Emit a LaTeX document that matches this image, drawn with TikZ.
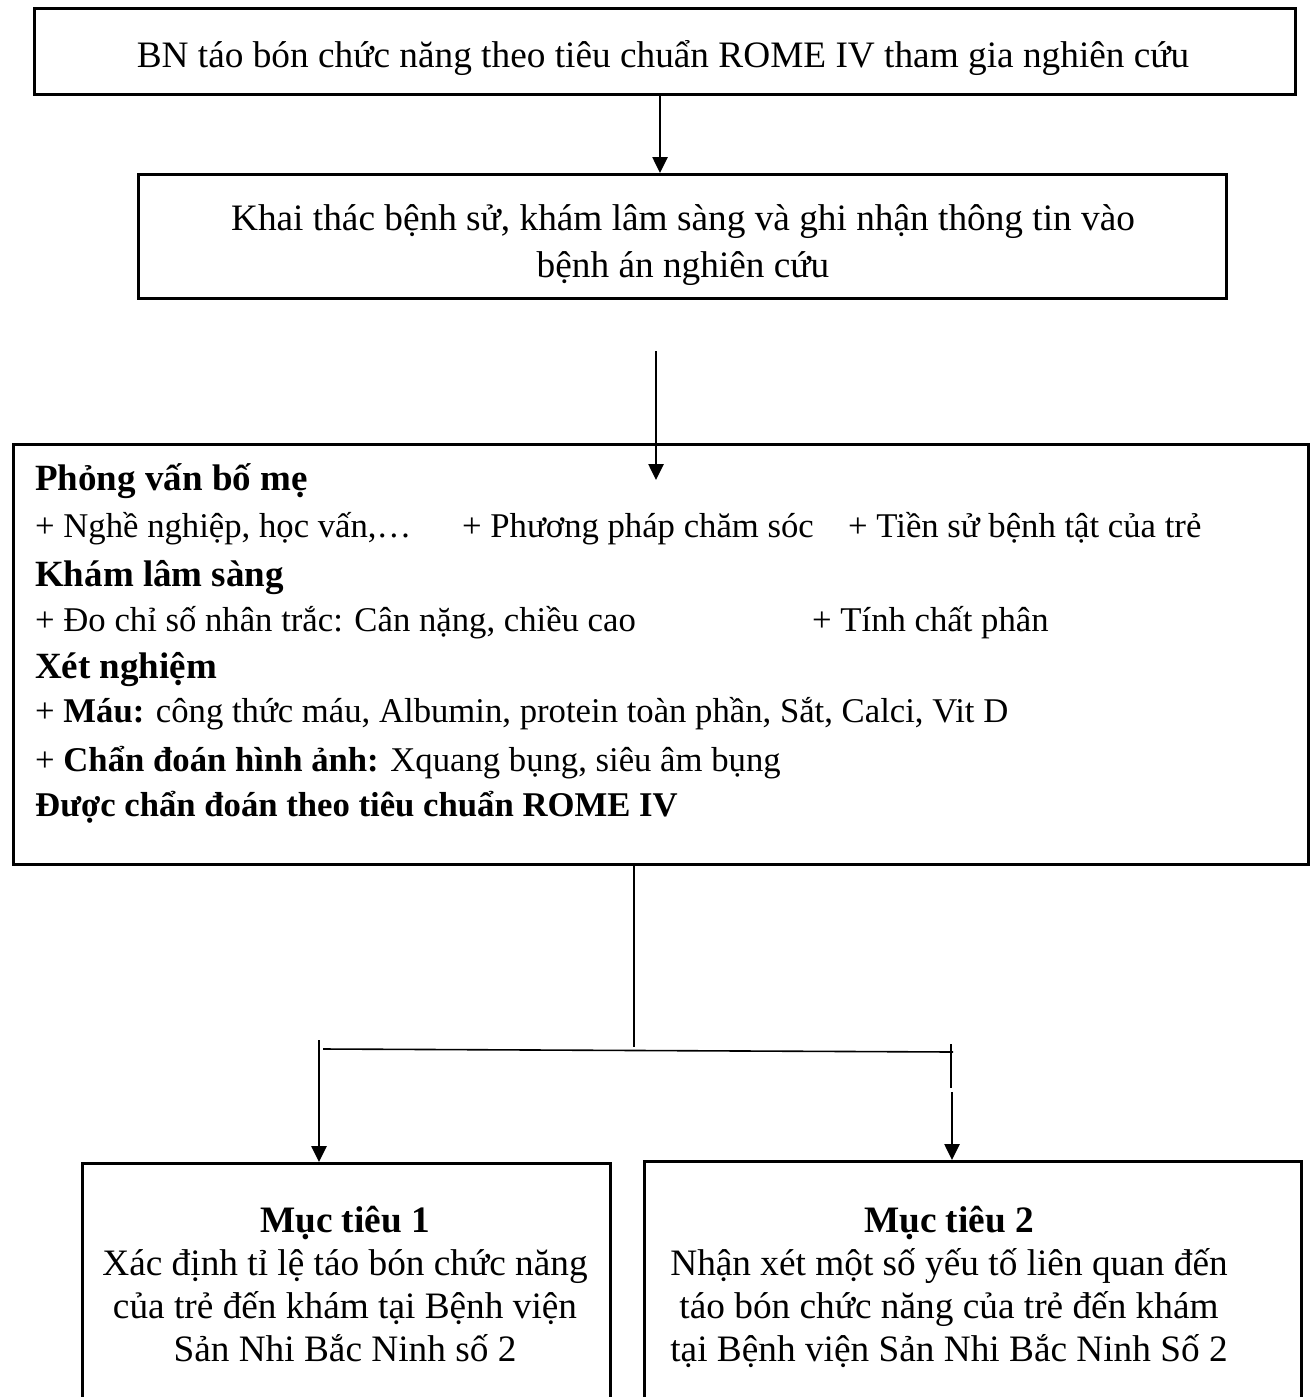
\documentclass[tikz,border=0pt]{standalone}
\usepackage{fontspec}
\setmainfont{Liberation Serif}
\usetikzlibrary{arrows.meta}
\begin{document}
\begin{tikzpicture}[x=1pt,y=-1pt,
  box/.style={draw,line width=2.6pt,inner sep=0pt,anchor=north west},
  conn/.style={line width=2.6pt,-{Triangle[width=15pt,length=16pt]}},
  thin/.style={line width=1.6pt},
  body/.style={inner sep=0pt,anchor=base west,font=\fontsize{34.7}{40}\selectfont},
  head/.style={inner sep=0pt,anchor=base west,font=\fontsize{37}{44}\selectfont\bfseries},
  ctr/.style={inner sep=0pt,anchor=base,font=\fontsize{37.3}{44}\selectfont}]
\useasboundingbox (0,0) rectangle (1315,1397);
% boxes
\node[box,minimum width=1261pt,minimum height=86pt] (b1) at (33,7) {};
\node[box,minimum width=1088pt,minimum height=124pt] (b2) at (137,173) {};
\node[box,minimum width=1295pt,minimum height=420pt] (b3) at (12,443) {};
\node[box,minimum width=528pt,minimum height=300pt] (b4) at (81,1162) {};
\node[box,minimum width=657pt,minimum height=300pt] (b5) at (643,1160) {};
% texts
\node[ctr] (t1) at (663,67) {BN táo bón chức năng theo tiêu chuẩn ROME IV tham gia nghiên cứu};
\node[ctr] (t2a) at (683,230) {Khai thác bệnh sử, khám lâm sàng và ghi nhận thông tin vào};
\node[ctr] (t2b) at (683,277) {bệnh án nghiên cứu};
\node[head] (h1) at (35,490) {Phỏng vấn bố mẹ};
\node[body] (l1a) at (35,537) {+ Nghề nghiệp, học vấn,…};
\node[body] (l1b) at (462,537) {+ Phương pháp chăm sóc};
\node[body] (l1c) at (848,537) {+ Tiền sử bệnh tật của trẻ};
\node[head] (h2) at (35,586) {Khám lâm sàng};
\node[body] (l2a) at (35,631) {+ Đo chỉ số nhân trắc: Cân nặng, chiều cao};
\node[body] (l2b) at (812,631) {+ Tính chất phân};
\node[head] (h3) at (35,678) {Xét nghiệm};
\node[body] (l3) at (35,722) {+ \textbf{Máu:} công thức máu, Albumin, protein toàn phần, Sắt, Calci, Vit D};
\node[body] (l4) at (35,771) {+ \textbf{Chẩn đoán hình ảnh:} Xquang bụng, siêu âm bụng};
\node[body,font=\fontsize{34.7}{40}\selectfont\bfseries] (l5) at (35,816) {Được chẩn đoán theo tiêu chuẩn ROME IV};
\node[ctr] (m1a) at (345,1232) {\textbf{Mục tiêu 1}};
\node[ctr] (m1b) at (345,1275) {Xác định tỉ lệ táo bón chức năng};
\node[ctr] (m1c) at (345,1318) {của trẻ đến khám tại Bệnh viện};
\node[ctr] (m1d) at (345,1361) {Sản Nhi Bắc Ninh số 2};
\node[ctr] (m2a) at (949,1232) {\textbf{Mục tiêu 2}};
\node[ctr] (m2b) at (949,1275) {Nhận xét một số yếu tố liên quan đến};
\node[ctr] (m2c) at (949,1318) {táo bón chức năng của trẻ đến khám};
\node[ctr] (m2d) at (949,1361) {tại Bệnh viện Sản Nhi Bắc Ninh Số 2};
% connectors
\draw[conn] (b1.south -| 660,0) -- (b2.north -| 660,0);
\coordinate (a2s) at (656,351);
\coordinate (a2e) at (656,480);
\draw[conn] (a2s) -- (a2e);
\coordinate (sp) at (634,1047);
\coordinate (hl) at (323,1049);
\coordinate (hr) at (953,1052);
\coordinate (tk1) at (951,1044);
\coordinate (tk2) at (951,1088);
\draw[thin] (b3.south -| sp) -- (sp);
\draw[thin] (hl) -- (hr);
\draw[thin] (tk1) -- (tk2);
\coordinate (la) at (319,1040);
\draw[conn] (la) -- (b4.north -| la);
\coordinate (ra) at (952,1092);
\draw[conn] (ra) -- (b5.north -| ra);
\end{tikzpicture}
\end{document}
